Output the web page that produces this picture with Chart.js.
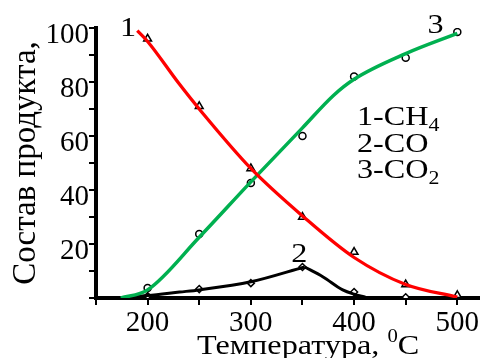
<!DOCTYPE html>
<html>
<head>
<meta charset="utf-8">
<script src="https://cdn.jsdelivr.net/npm/chart.js@4.4.0/dist/chart.umd.min.js"></script>
<style>
  html, body { margin: 0; padding: 0; background: #fff; }
</style>
</head>
<body>
<canvas id="grafico" width="485" height="358"></canvas>
<script>
// Puntos medidos
const temps = [200, 250, 300, 350, 400, 450, 500];
const ch4Medido = [96, 71, 48, 30, 17, 5, 1];
const coMedido = [0.7, 3.3, 5.5, 11.5, 2.2, 0.3, 0];
const co2Medido = [3.7, 23.7, 42.6, 60, 82, 89, 98.5];

// Curvas trazadas
const ch4CurvaT = [190, 200, 230, 250, 300, 350, 400, 450, 500];
const ch4Curva = [99, 95, 79.6, 70, 48, 30.4, 15, 5, 0.3];
const co2CurvaT = [174, 200, 250, 300, 350, 380, 400, 450, 500];
const co2Curva = [0, 3, 22.5, 43, 63, 75, 81, 90.5, 98];
const coSubeT = [173, 200, 231, 250, 300, 352];
const coSube = [0, 0.9, 2.2, 3, 6, 11.5];
const coBajaT = [352, 370, 389, 400, 411];
const coBaja = [11.5, 7.8, 3.0, 1.4, 0.3];

// Etiquetas de los ejes
const xEtiquetas = [200, 300, 400, 500];
const yEtiquetas = [20, 40, 60, 80, 100];

const fuente = '"Liberation Serif", "Times New Roman", serif';

function puntos(xs, ys) {
    return xs.map((v, i) => ({ x: v, y: ys[i] }));
}

// Texto con subindices / superindices, un poco ensanchado
function escribe(ctx, partes, x, y, alinear) {
    const ancho = 1.15;
    ctx.save();
    ctx.translate(x, y);
    ctx.scale(ancho, 1);
    let total = 0;
    partes.forEach(p => {
        ctx.font = (p.sub ? '19px ' : p.sup ? '18px ' : '28px ') + fuente;
        total += ctx.measureText(p.t).width;
    });
    let px = alinear === 'center' ? -total / 2 : 0;
    partes.forEach(p => {
        if (p.sub) {
            ctx.font = '19px ' + fuente;
            ctx.fillText(p.t, px, 6);
        } else if (p.sup) {
            ctx.font = '18px ' + fuente;
            ctx.fillText(p.t, px, -12);
        } else {
            ctx.font = '28px ' + fuente;
            ctx.fillText(p.t, px, 0);
        }
        px += ctx.measureText(p.t).width;
    });
    ctx.restore();
}

const textos = {
    id: 'textos',
    afterDraw(chart) {
        const { ctx, scales: { x, y } } = chart;
        ctx.save();
        ctx.fillStyle = '#000';
        ctx.textBaseline = 'alphabetic';
        ctx.textAlign = 'left';
        escribe(ctx, [{ t: '1' }], x.getPixelForValue(181), y.getPixelForValue(97), 'center');
        escribe(ctx, [{ t: '3' }], x.getPixelForValue(479), y.getPixelForValue(98), 'center');
        escribe(ctx, [{ t: '2' }], x.getPixelForValue(347), y.getPixelForValue(13.3), 'center');

        escribe(ctx, [{ t: '1-CH' }, { t: '4', sub: true }], 357, 125);
        escribe(ctx, [{ t: '2-CO' }], 357, 152);
        escribe(ctx, [{ t: '3-CO' }, { t: '2', sub: true }], 357, 178);

        // titulo eje x
        escribe(ctx, [{ t: 'Температура, ' }, { t: '0', sup: true }, { t: 'C' }], 197, 354);
        ctx.restore();
    }
};

function curva(datos, color, ancho) {
    return {
        data: datos,
        borderColor: color,
        borderWidth: ancho,
        pointRadius: 0,
        cubicInterpolationMode: 'monotone'
    };
}

function marcas(datos, estilo, radio) {
    return {
        data: datos,
        showLine: false,
        pointStyle: estilo,
        pointRadius: radio,
        borderColor: '#000',
        backgroundColor: '#fff',
        pointBorderWidth: 1.5
    };
}

const ctx = document.getElementById('grafico').getContext('2d');
const grafico = new Chart(ctx, {
    type: 'line',
    data: {
        datasets: [
            curva(puntos(ch4CurvaT, ch4Curva), '#ff0000', 3.3),
            curva(puntos(co2CurvaT, co2Curva), '#00b050', 3.5),
            curva(puntos(coSubeT, coSube), '#000', 3),
            curva(puntos(coBajaT, coBaja), '#000', 3),
            marcas(puntos(temps, ch4Medido), 'triangle', 4.5),
            marcas(puntos(temps, co2Medido), 'circle', 3.5),
            marcas(puntos(temps, coMedido), 'rectRot', 3.5)
        ]
    },
    options: {
        responsive: false,
        animation: false,
        layout: { padding: { top: 28, right: 0, left: 0, bottom: 0 } },
        plugins: { legend: { display: false }, tooltip: { enabled: false } },
        scales: {
            x: {
                type: 'linear',
                min: 150,
                max: 521,
                border: { color: '#000', width: 4 },
                grid: { drawOnChartArea: false, color: '#000', lineWidth: 2, tickLength: 7 },
                afterBuildTicks: (s) => {
                    s.ticks = [150, 200, 250, 300, 350, 400, 450, 500].map(v => ({ value: v }));
                },
                afterFit: (s) => {
                    s.height = 60;
                    s.paddingLeft = 0;
                    s.paddingRight = 0;
                },
                ticks: {
                    autoSkip: false,
                    maxRotation: 0,
                    padding: 1,
                    color: '#000',
                    font: { family: fuente, size: 29 },
                    callback: (v) => xEtiquetas.includes(v) ? String(v) : ''
                }
            },
            y: {
                min: 0,
                max: 100,
                border: { color: '#000', width: 4 },
                grid: { drawOnChartArea: false, color: '#000', lineWidth: 2, tickLength: 7 },
                afterFit: (s) => {
                    s.width = 96;
                    s.paddingTop = 0;
                    s.paddingBottom = 0;
                },
                ticks: {
                    stepSize: 10,
                    autoSkip: false,
                    padding: 0,
                    labelOffset: 7,
                    color: '#000',
                    font: { family: fuente, size: 29 },
                    callback: (v) => yEtiquetas.includes(v) ? String(v) : ''
                },
                title: {
                    display: true,
                    text: 'Состав продукта,',
                    color: '#000',
                    font: { family: fuente, size: 33 },
                    padding: { top: 7, bottom: 0 }
                }
            }
        }
    },
    plugins: [textos]
});
</script>
</body>
</html>
